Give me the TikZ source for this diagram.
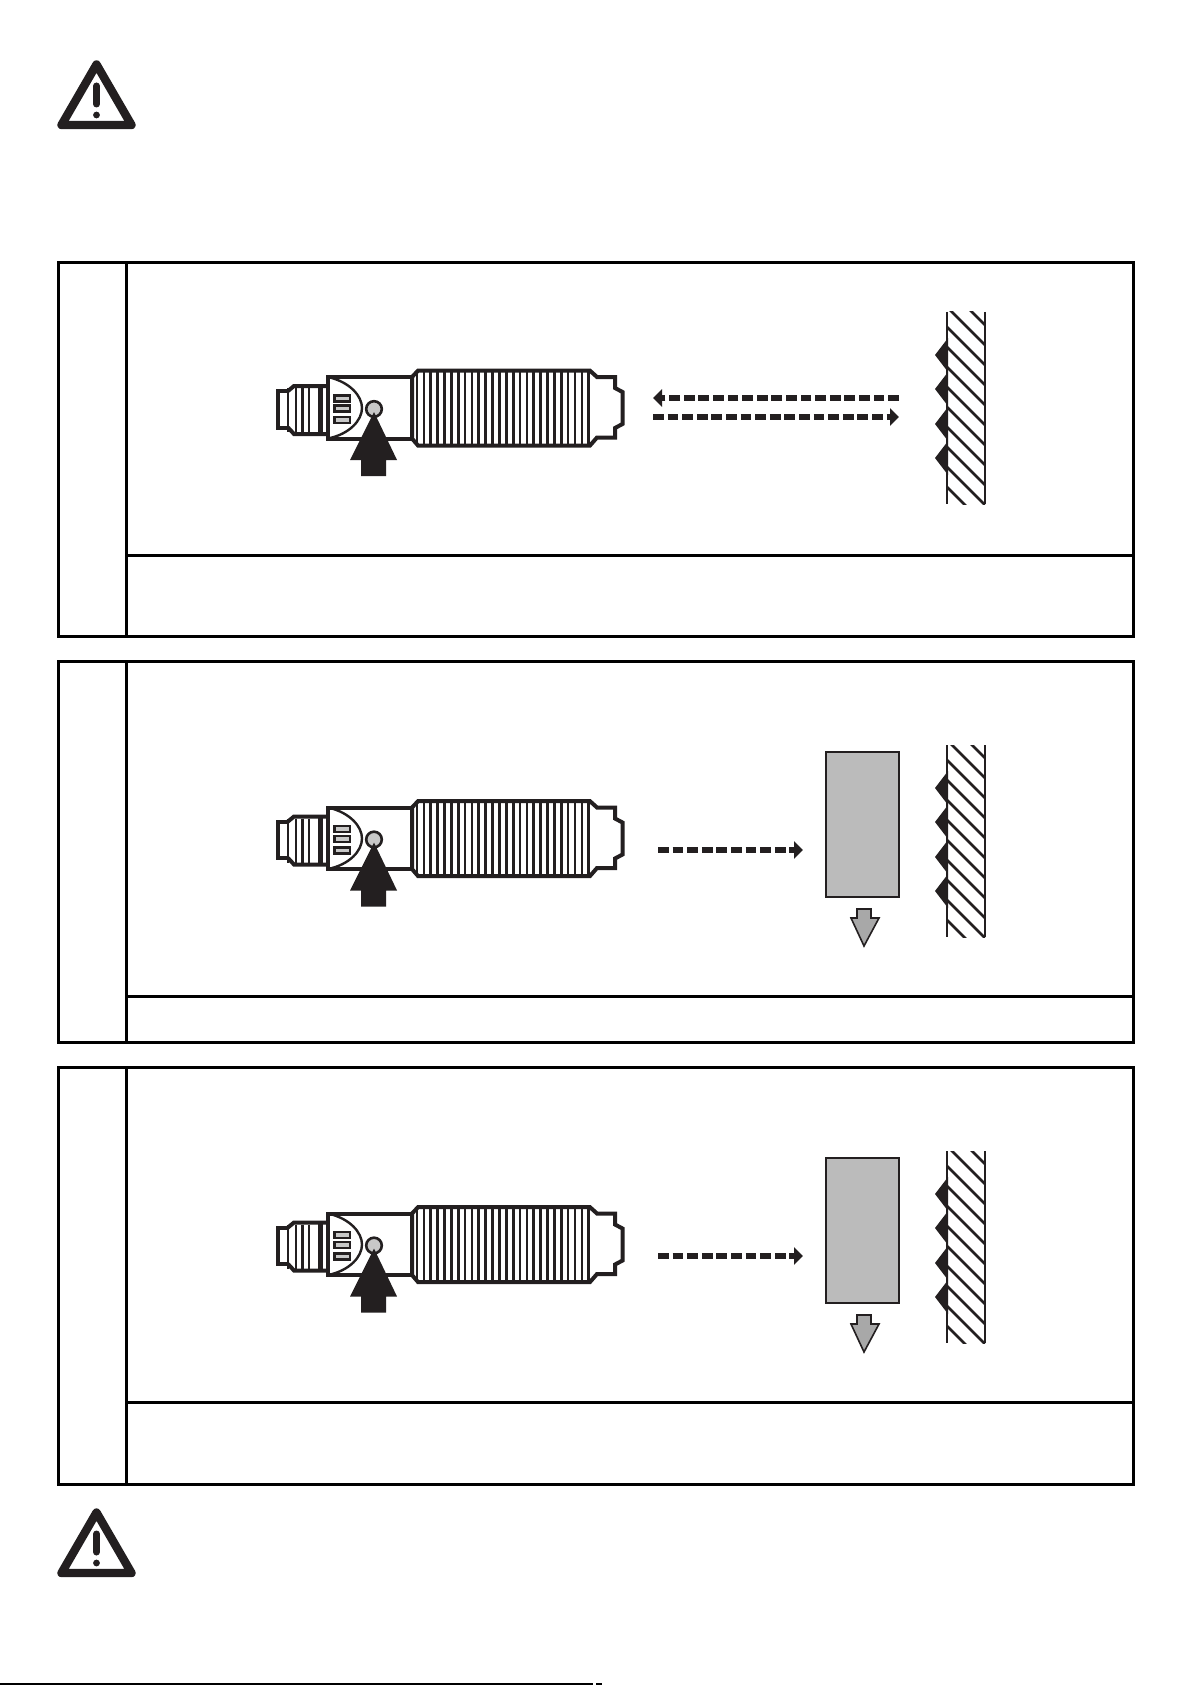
\documentclass[tikz,border=0pt]{standalone}
\usetikzlibrary{arrows.meta}
\definecolor{inkblack}{HTML}{231F20}
\definecolor{ledgray}{HTML}{C8C8C8}
\definecolor{blockgray}{HTML}{BBBBBB}
\definecolor{dropgray}{HTML}{A8A8A8}
\tikzset{
  framebox/.style={draw=black, line width=3pt},
  beam/.style={draw=inkblack, line width=6.8pt, dash pattern=on 10.8pt off 3.8pt, -{Triangle[length=9pt,width=17pt,fill=inkblack]}},
  outline/.style={draw=inkblack, line width=4pt, line join=miter},
  thin outline/.style={draw=inkblack, line width=2.4pt},
  groove/.style={draw=inkblack, line width=2.7pt},
  pics/sensor/.style={code={
    % connector cap and knurled nut
    \draw[outline] (28,41) -- (18,41) -- (18,77.5) -- (28,77.5);
    \draw[outline] (28,41) -- (34,36) -- (68,36);
    \draw[outline] (28,77.5) -- (34,84) -- (68,84);
    \foreach \x in {28,36,42.5,49} \draw[groove] (\x,38) -- (\x,82);
    \draw[draw=inkblack, line width=5pt] (60,36) -- (60,84);
    % housing
    \draw[outline] (152,27) -- (68,27) -- (68,88.5) -- (152,88.5);
    \draw[outline] (68,27) -- (68,88.5);
    \draw[thin outline] (68,27) .. controls (90,32) and (102,46) .. (102,58) .. controls (102,70) and (90,84) .. (68,88.5);
    \foreach \y in {45.3,55.3,67} \draw[thin outline, line width=2.6pt, fill=ledgray] (74.5,\y) rectangle (90,\y+6.1);
    \draw[thin outline, line width=2.6pt, fill=ledgray] (114,59) circle (7.8);
    % thread
    \draw[outline] (152,27) -- (158,20.7) -- (330,20.7) -- (337,27) -- (355,27) -- (355,38) -- (362.5,42) -- (362.5,74) -- (355,78) -- (355,87.5) -- (337,87.5) -- (330,95.5) -- (158,95.5) -- (152,88.5) -- cycle;
    \foreach \x in {157,163.87,...,331} \draw[groove] (\x,21) -- (\x,95);
    % push button arrow
    \fill[inkblack] (114,62) -- (137,110) -- (126,110) -- (126,126) -- (101,126) -- (101,110) -- (90,110) -- cycle;
  }},
  pics/wall/.style={code={
    \begin{scope}
      \clip (0,0) rectangle (38,192);
      \foreach \y in {-25,-5,...,175} \draw[groove] (0,\y) -- (38,\y+38);
    \end{scope}
    \draw[groove] (0,0) -- (0,192);
    \draw[draw=inkblack, line width=2pt] (38,0) -- (38,192);
    \foreach \y in {43,77,112,146} \fill[inkblack] (1,\y-17) -- (-12,\y) -- (1,\y+17) -- cycle;
  }},
  pics/warning/.style={code={
    \draw[draw=inkblack, line width=8.4pt, line join=round] (36.5,4.5) -- (1.5,65) -- (71.5,65) -- cycle;
    \draw[draw=inkblack, line width=7pt, line cap=round] (36.5,26) -- (36.5,44);
    \fill[inkblack] (36.5,55) circle (3.4);
  }},
  pics/target/.style={code={
    \draw[draw=inkblack, line width=2.6pt, fill=blockgray] (0,0) rectangle (73,145);
    \draw[draw=inkblack, line width=1.6pt, fill=dropgray] (31,157) -- (45,157) -- (45,166) -- (53,166) -- (38,194) -- (25,166) -- (31,166) -- cycle;
  }}
}
\begin{document}
\begin{tikzpicture}[x=1pt, y=-1pt]
  \useasboundingbox (0,0) rectangle (1191,1685);
  \fill[white] (0,0) rectangle (1191,1685);

  % warnings
  \pic at (60,60) {warning};
  \pic at (60,1508) {warning};

  % panels
  \draw[framebox] (58.5,263) rectangle (1133,636.5);
  \draw[framebox] (126.5,263) -- (126.5,636.5);
  \draw[framebox] (126.5,555.5) -- (1133,555.5);

  \draw[framebox] (58.5,661.5) rectangle (1133,1042.5);
  \draw[framebox] (126.5,661.5) -- (126.5,1042.5);
  \draw[framebox] (126.5,996.5) -- (1133,996.5);

  \draw[framebox] (58.5,1067.5) rectangle (1133,1484.5);
  \draw[framebox] (126.5,1067.5) -- (126.5,1484.5);
  \draw[framebox] (126.5,1402.5) -- (1133,1402.5);

  % first panel
  \pic at (260,350) {sensor};
  \coordinate (beamA) at (899,398);
  \coordinate (beamB) at (653,398);
  \coordinate (beamC) at (653,417);
  \coordinate (beamD) at (899,417);
  \draw[beam] (beamA) -- (beamB);
  \draw[beam] (beamC) -- (beamD);
  \pic at (947,312) {wall};

  % second and third panel
  \foreach \yshift/\nm in {0/E,406/F} {
    \begin{scope}[yshift=-\yshift pt]
      \pic at (260,780.5) {sensor};
      \coordinate (beam\nm a) at (658,850);
      \coordinate (beam\nm b) at (803,850);
      \draw[beam] (beam\nm a) -- (beam\nm b);
      \pic at (826,752) {target};
      \pic at (947,745) {wall};
    \end{scope}
  }

  % foot rule
  \draw[draw=black, line width=2pt] (0,1684) -- (593,1684);
  \fill[black] (596,1683) rectangle (602,1685);
\end{tikzpicture}
\end{document}
